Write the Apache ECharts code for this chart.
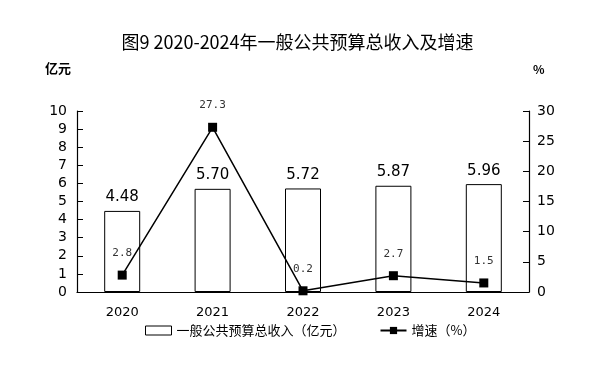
<!DOCTYPE html>
<html><head><meta charset="utf-8">
<script src="https://cdn.jsdelivr.net/npm/echarts@6/dist/echarts.min.js"></script>
<style>html,body{margin:0;padding:0;background:#fff}#c{width:595px;height:366px}</style>
</head><body><div id="c"></div>
<script>
const categories = ['2020','2021','2022','2023','2024'];
const revenue = [4.48, 5.70, 5.72, 5.87, 5.96];
const growth = [2.8, 27.3, 0.2, 2.7, 1.5];
const leftTicks = [0,10,1];
const rightTicks = [0,30,5];
const chart = echarts.init(document.getElementById('c'));
const numFont = 'DejaVu Sans, sans-serif';
chart.setOption({
  animation:false,
  backgroundColor:'#fff',
  title:{text:'图9 2020-2024年一般公共预算总收入及增速',left:'center',top:28,
    textStyle:{fontFamily:'Noto Sans CJK SC',fontSize:18,fontWeight:'normal',color:'#000'}},
  grid:{left:77,right:66,top:111,bottom:74},
  legend:{bottom:24,left:140,itemGap:34,
    textStyle:{fontFamily:'Noto Sans CJK SC',fontSize:13,color:'#000'},
    data:[{name:'一般公共预算总收入（亿元）',icon:'path://M0,0H26V9H0Z',itemStyle:{color:'#fff',borderColor:'#000',borderWidth:1}},
          {name:'增速（%）'}],
    itemWidth:26,itemHeight:9},
  xAxis:{type:'category',data:categories,
    axisLine:{lineStyle:{color:'#000',width:1.2}},
    axisTick:{inside:true,length:6,lineStyle:{color:'#000'}},
    axisLabel:{fontFamily:numFont,fontSize:13,color:'#000',margin:14}},
  yAxis:[
    {type:'value',min:leftTicks[0],max:leftTicks[1],interval:leftTicks[2],
      name:'亿元',nameLocation:'end',nameGap:36,
      nameTextStyle:{fontFamily:'Noto Sans CJK SC',fontWeight:'bold',fontSize:13,color:'#000',align:'right',padding:[0,6,0,0]},
      axisLine:{show:true,lineStyle:{color:'#000',width:1.2}},
      axisTick:{show:true,inside:true,length:6,lineStyle:{color:'#000'}},
      splitLine:{show:false},
      axisLabel:{fontFamily:numFont,fontSize:14,color:'#000',margin:10}},
    {type:'value',min:rightTicks[0],max:rightTicks[1],interval:rightTicks[2],
      name:'%',nameLocation:'end',nameGap:36,
      nameTextStyle:{fontFamily:'Noto Sans CJK SC',fontWeight:'bold',fontSize:12,color:'#000',align:'left',padding:[0,0,0,4]},
      axisLine:{show:true,lineStyle:{color:'#000',width:1.2}},
      axisTick:{show:true,inside:true,length:6,lineStyle:{color:'#000'}},
      splitLine:{show:false},
      axisLabel:{fontFamily:numFont,fontSize:14,color:'#000',margin:8}}
  ],
  series:[
    {name:'一般公共预算总收入（亿元）',type:'bar',data:revenue,barWidth:36,
      itemStyle:{color:'#fff',borderColor:'#000',borderWidth:1},
      label:{show:true,position:'top',distance:6,fontFamily:numFont,fontSize:15,color:'#000',
        formatter:p=>p.value.toFixed(2)}},
    {name:'增速（%）',type:'line',yAxisIndex:1,data:growth,
      symbol:'rect',symbolSize:9,
      lineStyle:{color:'#000',width:1.5},itemStyle:{color:'#000'},
      label:{show:true,position:'top',distance:12,fontFamily:'DejaVu Sans Mono, monospace',fontSize:11,color:'#333',
        formatter:p=>p.value.toFixed(1)}}
  ]
});
</script></body></html>
